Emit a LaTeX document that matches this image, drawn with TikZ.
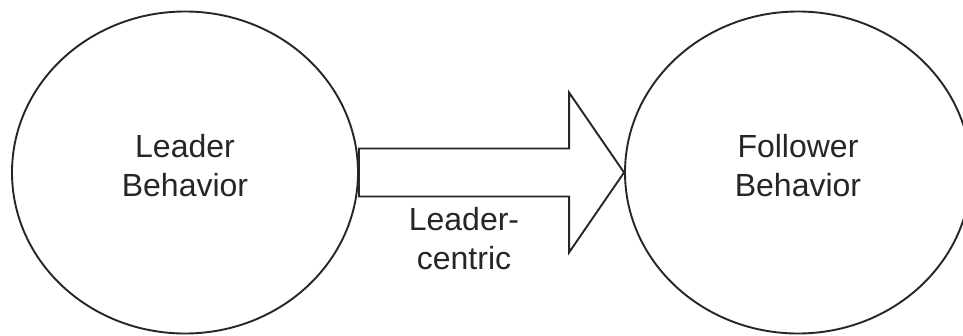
\documentclass[tikz,border=0pt]{standalone}
\usepackage{fontspec}
\setmainfont{Liberation Sans}
\usetikzlibrary{shapes.geometric,calc}
\tikzset{
  bubble/.style={ellipse, draw=black!85, line width=1.9pt, fill=white,
    minimum width=346pt, minimum height=322pt, inner sep=0pt},
  caption/.style={align=center, inner sep=0pt, text=black!85,
    font=\fontsize{32}{39}\selectfont},
  blockarrow/.style={draw=black!85, line width=1.9pt, fill=white, line join=miter},
}
\begin{document}
\begin{tikzpicture}[x=1pt,y=-1pt]
  \useasboundingbox (0,0) rectangle (963,335);
  % the two behaviour ellipses
  \node[bubble] (L) at (185,172.5) {};
  \node[bubble] (R) at (798,172.5) {};
  \node[caption] (Ltxt) at ([yshift=6.5pt]L.center) {Leader\\Behavior};
  \node[caption] (Rtxt) at ([yshift=6.5pt]R.center) {Follower\\Behavior};
  % block arrow from leader to follower
  \draw[blockarrow]
    ($(L.east)+(0,-24)$) -- ($(R.west)+(-55,-24)$) -- ($(R.west)+(-55,-80)$)
    -- (R.west) -- ($(R.west)+(-55,80)$) -- ($(R.west)+(-55,24)$)
    -- ($(L.east)+(0,24)$) -- cycle;
  \node[caption] (lbl) at (464,239) {Leader-\\centric};
\end{tikzpicture}
\end{document}
